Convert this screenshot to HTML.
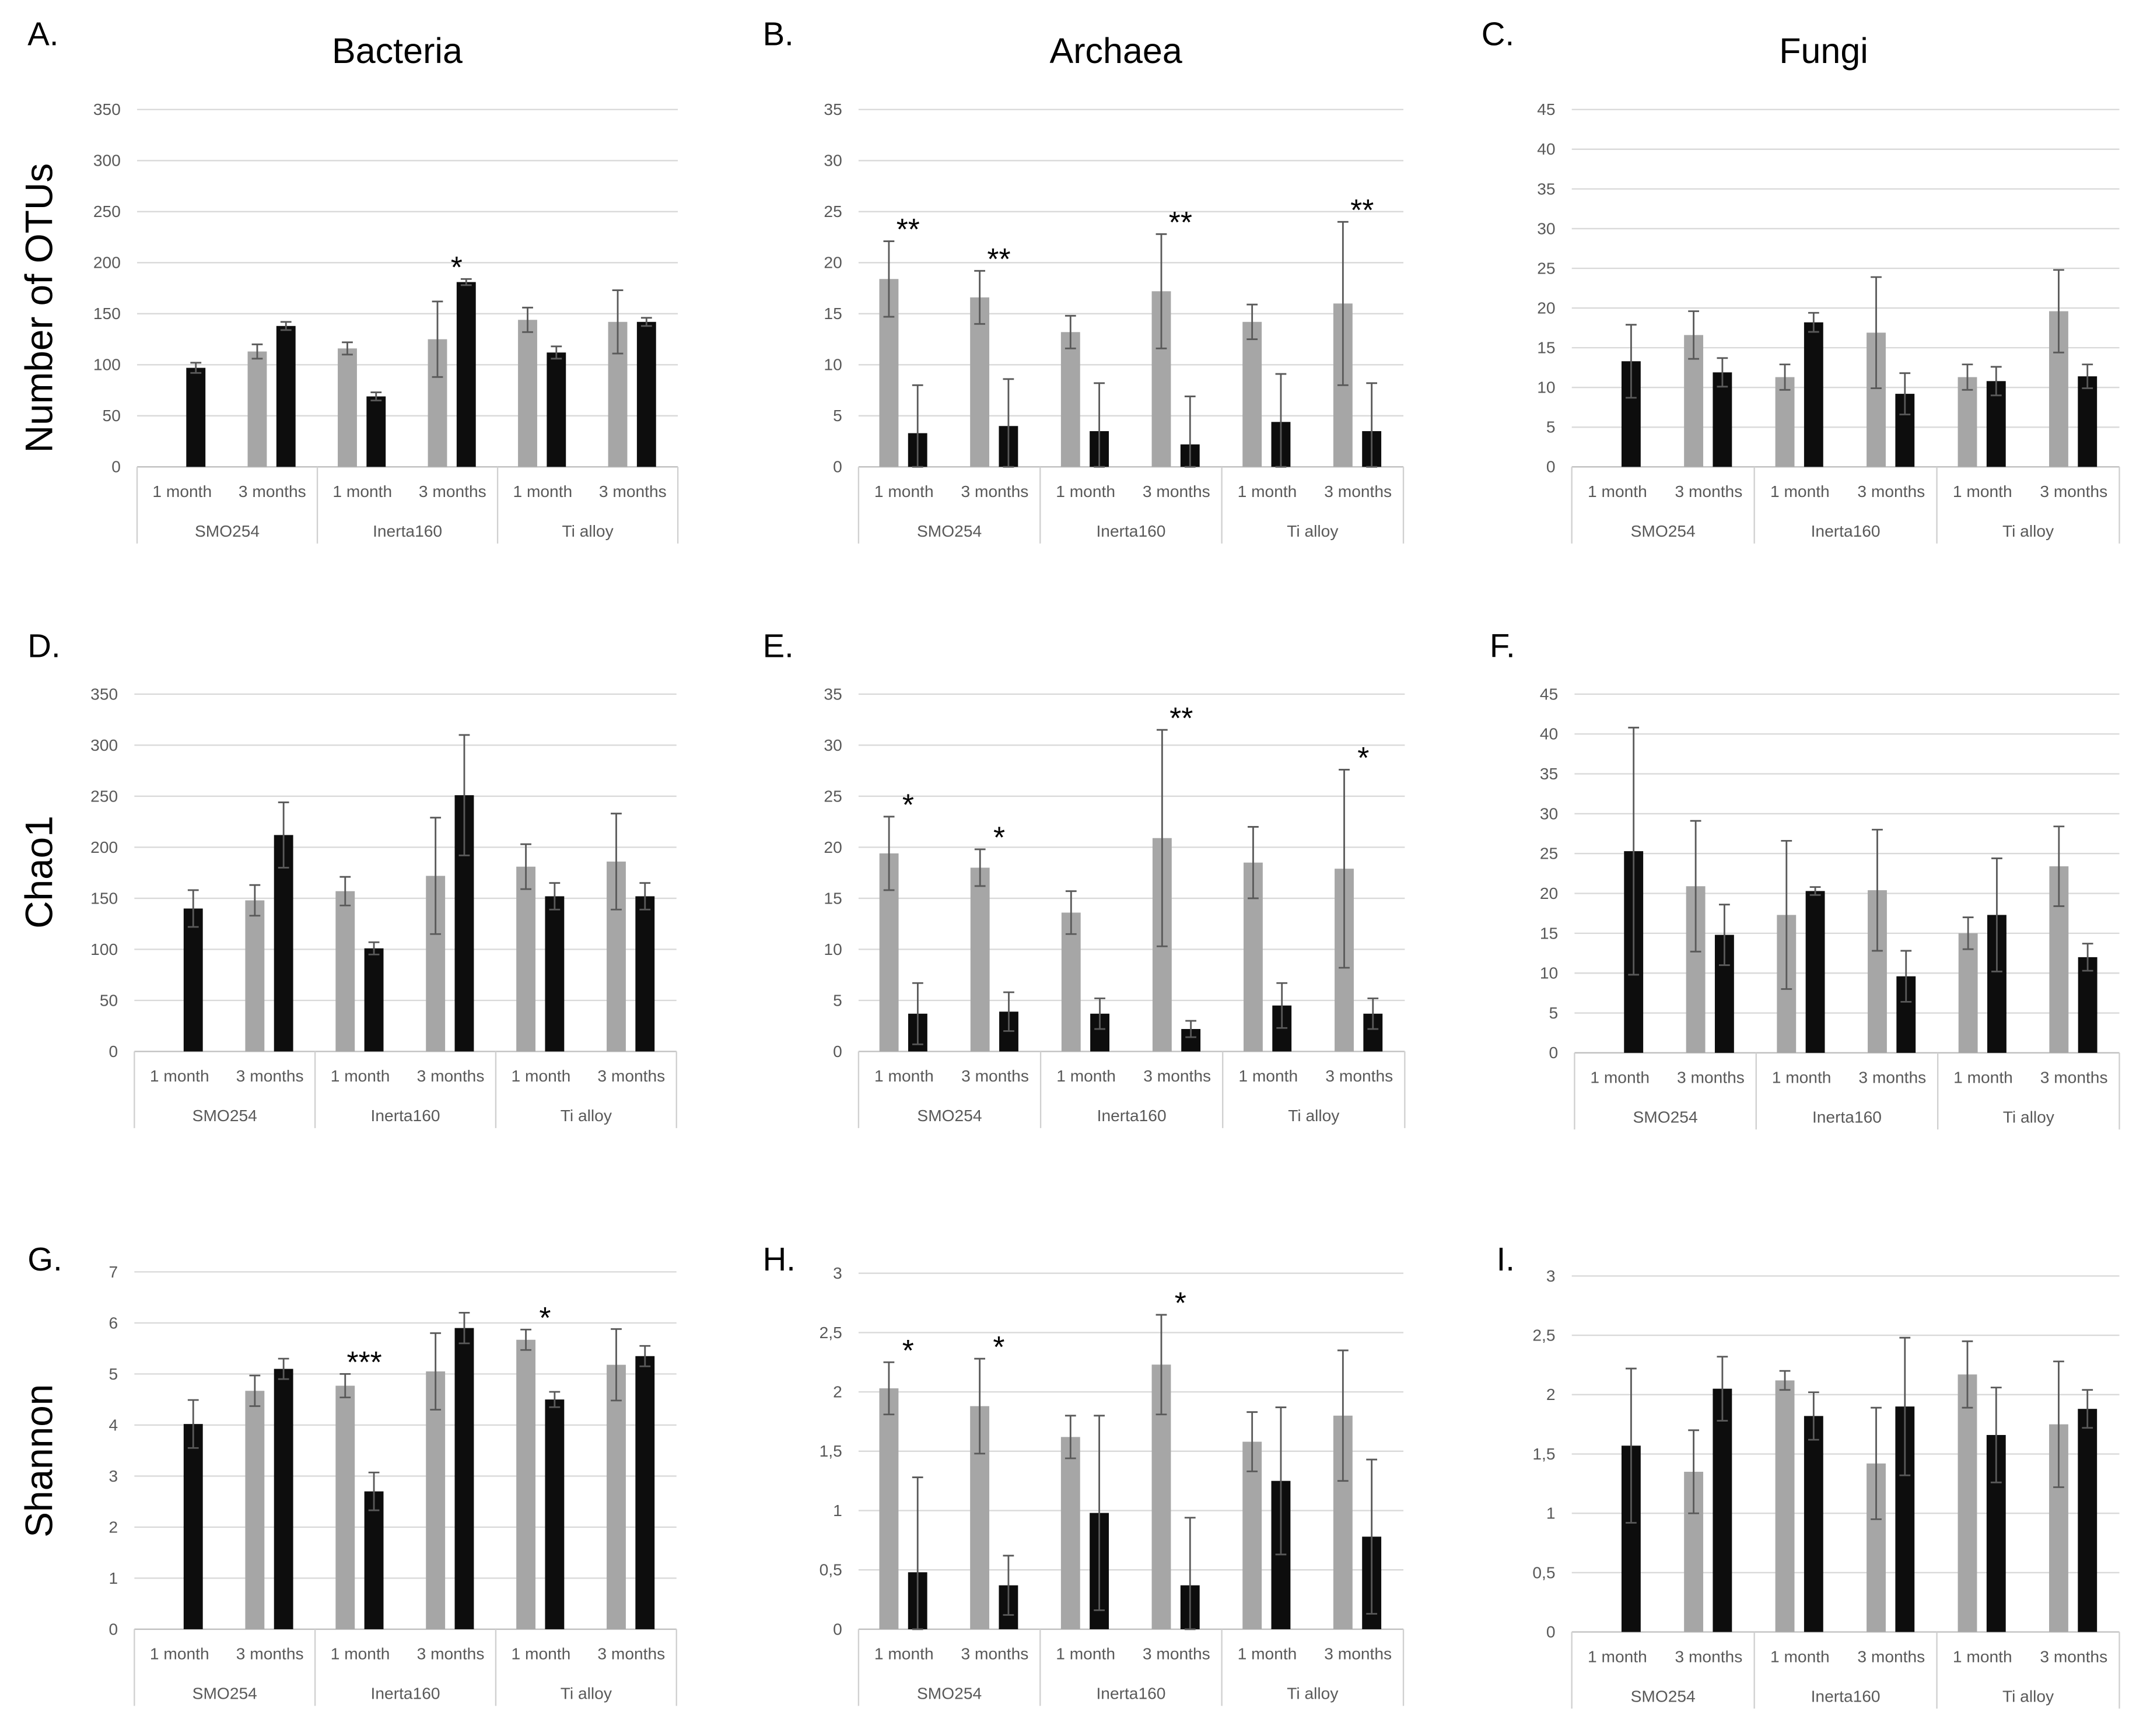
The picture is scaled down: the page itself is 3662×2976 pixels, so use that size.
<!DOCTYPE html>
<html><head><meta charset="utf-8"><style>
html,body{margin:0;padding:0;background:#fff;}
svg{display:block;font-family:"Liberation Sans",sans-serif;}
</style></head><body>
<svg id="fig" width="3662" height="2976" viewBox="0 0 1560 1268" xmlns="http://www.w3.org/2000/svg"></svg>
<script>
const categories = ["1 month","3 months","1 month","3 months","1 month","3 months"];
const groups = ["SMO254","Inerta160","Ti alloy"];

const aGray = [null,113,116,125,144,142];
const aGrayErr = [0,7,6,37,12,31];
const aBlack = [97,138,69,181,112,142];
const aBlackErr = [5,4,4,3,6,4];
const aStars = ["","","","*","",""];

const bGray = [18.4,16.6,13.2,17.2,14.2,16];
const bGrayErr = [3.7,2.6,1.6,5.6,1.7,8];
const bBlack = [3.3,4,3.5,2.2,4.4,3.5];
const bBlackErr = [4.7,4.6,4.7,4.7,4.7,4.7];
const bStars = ["**","**","","**","","**"];

const cGray = [null,16.6,11.3,16.9,11.3,19.6];
const cGrayErr = [0,3,1.6,7,1.6,5.2];
const cBlack = [13.3,11.9,18.2,9.2,10.8,11.4];
const cBlackErr = [4.6,1.8,1.2,2.6,1.8,1.5];
const cStars = ["","","","","",""];

const dGray = [null,148,157,172,181,186];
const dGrayErr = [0,15,14,57,22,47];
const dBlack = [140,212,101,251,152,152];
const dBlackErr = [18,32,6,59,13,13];
const dStars = ["","","","","",""];

const eGray = [19.4,18,13.6,20.9,18.5,17.9];
const eGrayErr = [3.6,1.8,2.1,10.6,3.5,9.7];
const eBlack = [3.7,3.9,3.7,2.2,4.5,3.7];
const eBlackErr = [3,1.9,1.5,0.8,2.2,1.5];
const eStars = ["*","*","","**","","*"];

const fGray = [null,20.9,17.3,20.4,15,23.4];
const fGrayErr = [0,8.2,9.3,7.6,2,5];
const fBlack = [25.3,14.8,20.3,9.6,17.3,12];
const fBlackErr = [15.5,3.8,0.5,3.2,7.1,1.7];
const fStars = ["","","","","",""];

const gGray = [null,4.67,4.77,5.05,5.67,5.18];
const gGrayErr = [0,0.3,0.23,0.75,0.2,0.7];
const gBlack = [4.02,5.1,2.7,5.9,4.5,5.35];
const gBlackErr = [0.47,0.2,0.37,0.3,0.15,0.2];
const gStars = ["","","***","","*",""];

const hGray = [2.03,1.88,1.62,2.23,1.58,1.8];
const hGrayErr = [0.22,0.4,0.18,0.42,0.25,0.55];
const hBlack = [0.48,0.37,0.98,0.37,1.25,0.78];
const hBlackErr = [0.8,0.25,0.82,0.57,0.62,0.65];
const hStars = ["*","*","","*","",""];

const iGray = [null,1.35,2.12,1.42,2.17,1.75];
const iGrayErr = [0,0.35,0.08,0.47,0.28,0.53];
const iBlack = [1.57,2.05,1.82,1.9,1.66,1.88];
const iBlackErr = [0.65,0.27,0.2,0.58,0.4,0.16];
const iStars = ["","","","","",""];

const ticksOTU = [0,50,100,150,200,250,300,350];
const ticks35 = [0,5,10,15,20,25,30,35];
const ticks45 = [0,5,10,15,20,25,30,35,40,45];
const ticksShannon7 = [0,1,2,3,4,5,6,7];
const ticksShannon3 = [0,0.5,1,1.5,2,2.5,3];

const NS="http://www.w3.org/2000/svg";
const svg=document.getElementById('fig');
function mk(tag,attrs,parent,text){const e=document.createElementNS(NS,tag);for(const k in attrs)e.setAttribute(k,attrs[k]);if(text!==undefined)e.textContent=text;(parent||svg).appendChild(e);return e;}
function fmt(v){return String(v).replace('.',',');}

const panels=[
 {id:'a',x0:100,x1:495,y0:341,y1:80,ticks:ticksOTU,gray:aGray,ge:aGrayErr,black:aBlack,be:aBlackErr,stars:aStars},
 {id:'b',x0:627,x1:1025,y0:341,y1:80,ticks:ticks35,gray:bGray,ge:bGrayErr,black:bBlack,be:bBlackErr,stars:bStars},
 {id:'c',x0:1148,x1:1548,y0:341,y1:80,ticks:ticks45,gray:cGray,ge:cGrayErr,black:cBlack,be:cBlackErr,stars:cStars},
 {id:'d',x0:98,x1:494,y0:768,y1:507,ticks:ticksOTU,gray:dGray,ge:dGrayErr,black:dBlack,be:dBlackErr,stars:dStars},
 {id:'e',x0:627,x1:1026,y0:768,y1:507,ticks:ticks35,gray:eGray,ge:eGrayErr,black:eBlack,be:eBlackErr,stars:eStars},
 {id:'f',x0:1150,x1:1548,y0:769,y1:507,ticks:ticks45,gray:fGray,ge:fGrayErr,black:fBlack,be:fBlackErr,stars:fStars},
 {id:'g',x0:98,x1:494,y0:1190,y1:929,ticks:ticksShannon7,gray:gGray,ge:gGrayErr,black:gBlack,be:gBlackErr,stars:gStars},
 {id:'h',x0:627,x1:1025,y0:1190,y1:930,ticks:ticksShannon3,gray:hGray,ge:hGrayErr,black:hBlack,be:hBlackErr,stars:hStars},
 {id:'i',x0:1148,x1:1548,y0:1192,y1:932,ticks:ticksShannon3,gray:iGray,ge:iGrayErr,black:iBlack,be:iBlackErr,stars:iStars}
];

panels.forEach(p=>{
  const g=mk('g',{});
  
  
  const tmax=p.ticks[p.ticks.length-1];
  const y=v=>p.y0-(v/tmax)*(p.y0-p.y1);
  const cw=(p.x1-p.x0)/categories.length;
  const cx=i=>p.x0+cw*(i+0.5);
  p.ticks.forEach(t=>{
    if(t>0){const l=mk('line',{x1:p.x0,x2:p.x1,y1:y(t),y2:y(t),stroke:'#d9d9d9','stroke-width':1},g);
      }
    const tx=mk('text',{x:p.x0-12,y:y(t)+4,'text-anchor':'end','font-size':12,fill:'#595959'},g,fmt(t));
    
  });
  const ax=mk('line',{x1:p.x0,x2:p.x1,y1:p.y0,y2:p.y0,stroke:'#bfbfbf','stroke-width':1},g);
  
  for(let k=0;k<=3;k++){
    const sx=p.x0+cw*2*k;
    const s=mk('line',{x1:sx,x2:sx,y1:p.y0,y2:p.y0+56,stroke:'#d0d0d0','stroke-width':1},g);
    
  }
  categories.forEach((c,i)=>{
    const t=mk('text',{x:cx(i),y:p.y0+22,'text-anchor':'middle','font-size':12,fill:'#595959'},g,c);
    
  });
  groups.forEach((gr,k)=>{
    const t=mk('text',{x:p.x0+cw*(2*k+1),y:p.y0+51,'text-anchor':'middle','font-size':12,fill:'#595959'},g,gr);
    
  });
  const bw=14;
  function bar(v,e,xc,col,name){
    if(v===null)return null;
    const r=mk('rect',{x:xc-bw/2,y:y(v),width:bw,height:p.y0-y(v),fill:col},g);
    
    const top=y(v+e), bot=y(Math.max(0,v-e));
    const eb=mk('path',{d:`M${xc},${top}V${bot}M${xc-4},${top}H${xc+4}M${xc-4},${bot}H${xc+4}`,stroke:'#595959','stroke-width':1.2,fill:'none'},g);
    
    return top;
  }
  categories.forEach((c,i)=>{
    const t1=bar(p.gray[i],p.ge[i],cx(i)-11,'#a6a6a6','bar-gray');
    const t2=bar(p.black[i],p.be[i],cx(i)+10,'#0d0d0d','bar-black');
    if(p.stars[i]){
      const top=Math.min(t1===null?1e9:t1,t2===null?1e9:t2);
      const s=mk('text',{x:cx(i)+3,y:top-1,'text-anchor':'middle','font-size':22,fill:'#000'},g,p.stars[i]);
      
    }
  });
});

[["Bacteria",290],["Archaea",815],["Fungi",1332]].forEach(([t,x])=>{
  const e=mk('text',{x:x,y:46,'text-anchor':'middle','font-size':26,fill:'#000'},svg,t);
  
});
[["A.",20,33],["B.",557,33],["C.",1082,33],["D.",20,480],["E.",557,480],["F.",1088,480],["G.",20,928],["H.",557,928],["I.",1093,928]].forEach(([t,x,yy])=>{
  const e=mk('text',{x:x,y:yy,'font-size':24,fill:'#000'},svg,t);
  
});
[["Number of OTUs",225],["Chao1",637],["Shannon",1067]].forEach(([t,yy])=>{
  const e=mk('text',{x:38,y:yy,'text-anchor':'middle','font-size':28,fill:'#000',transform:`rotate(-90 38 ${yy})`},svg,t);
  
});
</script>
</body></html>
